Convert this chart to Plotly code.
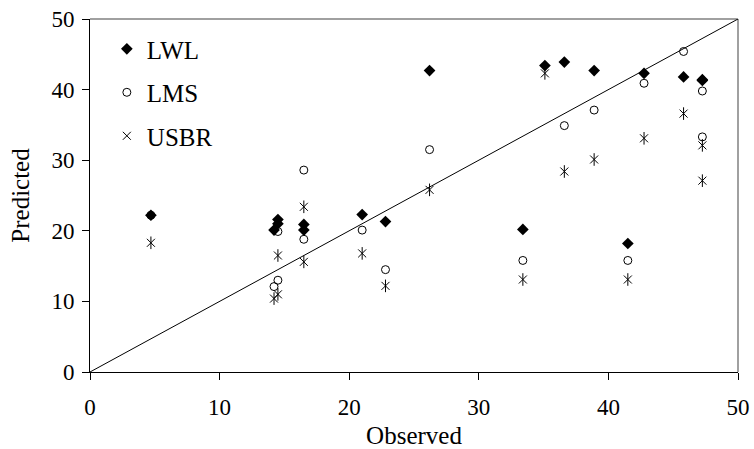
import plotly.graph_objects as go

# Observed values and the three predictions for each observation
observed = [4.7, 14.2, 14.5, 14.5, 16.5, 16.5, 21.0, 22.8, 26.2, 33.4,
            35.1, 36.6, 38.9, 41.5, 42.75, 45.8, 47.25, 47.25]
lwl = [22.2, 20.1, 21.6, 21.0, 20.9, 20.1, 22.3, 21.3, 42.7, 20.2,
       43.4, 43.9, 42.7, 18.2, 42.3, 41.8, 41.4, 41.3]
lms = [22.2, 12.1, 19.9, 13.0, 28.6, 18.8, 20.1, 14.5, 31.5, 15.8,
       None, 34.9, 37.1, 15.8, 40.9, 45.4, 39.8, 33.3]
usbr = [18.3, 10.4, 16.5, 11.0, 23.4, 15.6, 16.8, 12.2, 25.8, 13.1,
        42.3, 28.4, 30.1, 13.1, 33.1, 36.6, 32.1, 27.1]

identity = [0, 50]
tick_vals = [0, 10, 20, 30, 40, 50]

FONT = "Liberation Serif, Times New Roman, serif"

fig = go.Figure()

# 1:1 reference line
fig.add_trace(go.Scatter(x=identity, y=identity, mode="lines",
                         line=dict(color="black", width=1),
                         showlegend=False, hoverinfo="skip"))

fig.add_trace(go.Scatter(x=observed, y=usbr, mode="markers", name="USBR",
                         legendgroup="usbr", legendrank=3,
                         marker=dict(symbol="x-thin-open", size=8, color="black",
                                     line=dict(color="black", width=1))))
fig.add_trace(go.Scatter(x=observed, y=usbr, mode="markers", name="USBR",
                         legendgroup="usbr", showlegend=False,
                         marker=dict(symbol="line-ns-open", size=9, color="black",
                                     line=dict(color="black", width=1))))
fig.add_trace(go.Scatter(x=observed, y=lms, mode="markers", name="LMS",
                         legendgroup="lms", legendrank=2,
                         marker=dict(symbol="circle-open", size=8,
                                     color="black",
                                     line=dict(color="black", width=1))))
fig.add_trace(go.Scatter(x=observed, y=lwl, mode="markers", name="LWL",
                         legendgroup="lwl", legendrank=1,
                         marker=dict(symbol="diamond", size=9, color="black")))

axis_common = dict(
    range=[0, 50], tickvals=tick_vals, showgrid=False, zeroline=False,
    showline=True, linecolor="black", linewidth=1, automargin=False,
    ticks="outside", ticklen=7, tickcolor="black", tickwidth=1,
    tickfont=dict(family=FONT, size=23, color="black"),
    title_font=dict(family=FONT, size=25, color="black"),
)

fig.update_xaxes(**axis_common, title_text="Observed", title_standoff=10,
                 ticklabelstandoff=7)
fig.update_yaxes(**axis_common, title_text="Predicted", title_standoff=14,
                 ticklabelstandoff=3)

# grey frame on the top and right of the plot area
fig.add_shape(type="line", xref="paper", yref="paper", x0=0, x1=1, y0=1, y1=1,
              line=dict(color="#808080", width=1.5), layer="below")
fig.add_shape(type="line", xref="paper", yref="paper", x0=1, x1=1, y0=0, y1=1,
              line=dict(color="#808080", width=1.5), layer="below")

fig.update_layout(
    width=754, height=449,
    margin=dict(l=90, r=16, t=19, b=77),
    plot_bgcolor="white", paper_bgcolor="white",
    font=dict(family=FONT, size=23, color="black"),
    legend=dict(x=0.026, y=0.98, xanchor="left", yanchor="top",
                bgcolor="rgba(0,0,0,0)", traceorder="grouped",
                tracegroupgap=8, itemwidth=30,
                font=dict(family=FONT, size=25, color="black")),
)

fig.write_html("out.html")
